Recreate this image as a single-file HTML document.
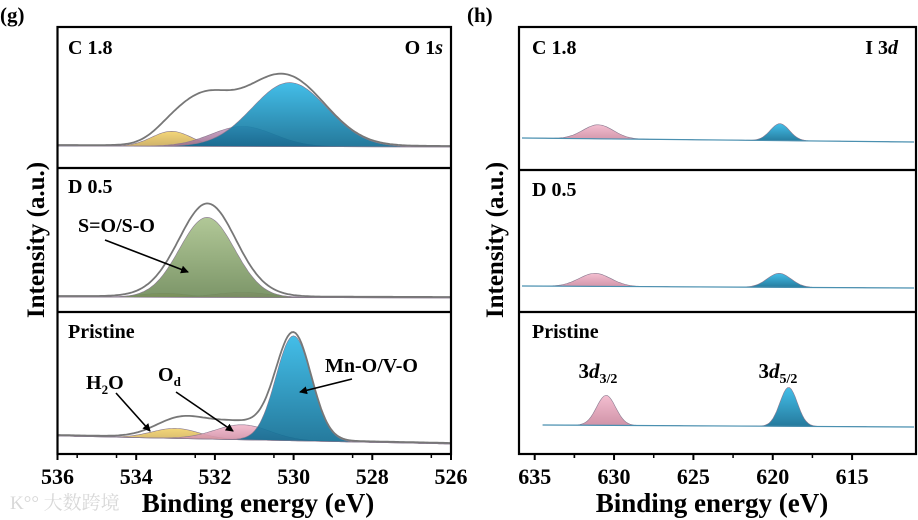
<!DOCTYPE html>
<html><head><meta charset="utf-8">
<style>
html,body{margin:0;padding:0;background:#fff;}
svg{display:block;}
text{font-family:"Liberation Serif","Noto Serif CJK SC",serif;}
</style></head>
<body>
<svg id="fig" width="918" height="520" viewBox="0 0 918 520" xmlns="http://www.w3.org/2000/svg">
<defs>
<linearGradient id="gBlue" x1="0" y1="0" x2="0" y2="1"><stop offset="0" stop-color="#2fb7e6"/><stop offset="1" stop-color="#0d6a90"/></linearGradient>
<linearGradient id="gPink" x1="0" y1="0" x2="0" y2="1"><stop offset="0" stop-color="#f2b7cb"/><stop offset="1" stop-color="#c9859c"/></linearGradient>
<linearGradient id="gYellow" x1="0" y1="0" x2="0" y2="1"><stop offset="0" stop-color="#f2d26a"/><stop offset="1" stop-color="#c9a85a"/></linearGradient>
<linearGradient id="gPurple" x1="0" y1="0" x2="0" y2="1"><stop offset="0" stop-color="#c8a0c4"/><stop offset="1" stop-color="#9a6a8c"/></linearGradient>
<linearGradient id="gGreen" x1="0" y1="0" x2="0" y2="1"><stop offset="0" stop-color="#a9c28c"/><stop offset="1" stop-color="#6e8a58"/></linearGradient>
<marker id="arr" markerWidth="8" markerHeight="8" refX="7" refY="4" orient="auto" markerUnits="userSpaceOnUse"><path d="M0,0 L8,4 L0,8 z" fill="#000"/></marker>
</defs>
</svg>
<script>
// ---------- data ----------
const oTicks = [536, 534, 532, 530, 528, 526];
const iTicks = [635, 630, 625, 620, 615];
// O 1s  C 1.8 : components [yellow(H2O), purple(Od), blue(Mn-O)]
const oC18Centers = [533.1, 531.3, 530.1];
const oC18Heights = [15, 20, 64];
const oC18Widths  = [0.5, 0.8, 0.95];
const oC18EnvExtraCenter = [532.3]; const oC18EnvExtraHeight = [36]; const oC18EnvExtraWidth = [0.6];
// O 1s  D 0.5 : [yellow, pink, green(S=O)]
const oD05Centers = [533.3, 531.3, 532.2];
const oD05Heights = [4, 5, 80];
const oD05Widths  = [0.6, 0.7, 0.7];
const oD05EnvExtraCenter = [532.2]; const oD05EnvExtraHeight = [10]; const oD05EnvExtraWidth = [0.7];
// O 1s Pristine : [yellow, pink, blue]
const oPrCenters = [533.0, 531.3, 530.0];
const oPrHeights = [10, 15, 105];
const oPrWidths  = [0.6, 0.7, 0.45];
const oPrEnvExtraCenter = [532.6]; const oPrEnvExtraHeight = [11]; const oPrEnvExtraWidth = [0.7];
// I 3d : [pink 3d3/2, blue 3d5/2]
const iC18Centers = [631.0, 619.55]; const iC18Heights = [14, 17]; const iC18Widths = [0.95, 0.6];
const iD05Centers = [631.2, 619.6];  const iD05Heights = [13, 14]; const iD05Widths = [1.0, 0.75];
const iPrCenters  = [630.5, 619.0];  const iPrHeights  = [30, 39]; const iPrWidths  = [0.6, 0.55];

// ---------- helpers ----------
const NS = "http://www.w3.org/2000/svg";
const svg = document.getElementById('fig');
function mk(tag, attrs, parent){ const e=document.createElementNS(NS,tag); for(const k in attrs) e.setAttribute(k,attrs[k]); (parent||svg).appendChild(e); return e; }
function txt(x,y,s,size,anchor,name,extra){ const t=mk('text',Object.assign({x:x,y:y,'font-size':size,'font-weight':'bold','text-anchor':anchor||'start','font-family':'Liberation Serif, serif'},extra||{})); t.innerHTML=s;   return t; }
function gauss(x,c,h,w){ return h*Math.exp(-(x-c)*(x-c)/(2*w*w)); }

// axis functions
const oX = e => 57.5 + (536 - e) * (451 - 57.5) / 10;
const iX = e => 534.7 + (635 - e) * 15.87;

function drawPanel(g, xf, eFrom, eTo, base0, base1, centers, heights, widths, fills, names, env){
  const N=200, pts=[];
  const base = e => base0 + (base1-base0)*(eFrom-e)/(eFrom-eTo);
  for(let i=0;i<=N;i++){ pts.push(eFrom + (eTo-eFrom)*i/N); }
  centers.forEach((c,k)=>{
    let d='M'+xf(pts[0]).toFixed(1)+','+base(pts[0]).toFixed(1);
    pts.forEach(e=>{ d+=' L'+xf(e).toFixed(1)+','+(base(e)-gauss(e,c,heights[k],widths[k])).toFixed(1); });
    d+=' L'+xf(pts[N]).toFixed(1)+','+base(pts[N]).toFixed(1)+' Z';
    const p=mk('path',{d:d,fill:fills[k],'fill-opacity':0.9,stroke:'#8a7a90','stroke-width':0.6},g);
    
    
  });
  if(env){
    let d='';
    pts.forEach((e,i)=>{
      let y=base(e);
      centers.forEach((c,k)=>{ y-=gauss(e,c,heights[k],widths[k]); });
      env.c.forEach((c,k)=>{ y-=gauss(e,c,env.h[k],env.w[k]); });
      d+=(i?' L':'M')+xf(e).toFixed(1)+','+(y-1).toFixed(1);
    });
    const p=mk('path',{d:d,fill:'none',stroke:'#777','stroke-width':1.8},g);
    
    
  } else {
    const p=mk('line',{x1:xf(eFrom),y1:base0,x2:xf(eTo),y2:base1,stroke:'#4a90b0','stroke-width':1.2},g);
    
    
  }
}

function frame(x0,y0,x1,y1,seps,name){
  const g=mk('g',{});
  
  
  mk('rect',{x:x0,y:y0,width:x1-x0,height:y1-y0,fill:'none',stroke:'#000','stroke-width':2.2},g);
  seps.forEach(y=>mk('line',{x1:x0,y1:y,x2:x1,y2:y,stroke:'#000','stroke-width':2.2},g));
}
function ticks(xf,majors,step,yb,x0,x1,name){
  const g=mk('g',{});
  
  
  majors.forEach(v=>{
    mk('line',{x1:xf(v),y1:yb,x2:xf(v),y2:yb+6,stroke:'#000','stroke-width':2},g);
    const t=txt(xf(v),yb+30,String(v),22,'middle','tick-label-'+v); g.appendChild(t);
    const m=xf(v-step/2); if(m>x0+2 && m<x1-2) mk('line',{x1:m,y1:yb,x2:m,y2:yb+4,stroke:'#000','stroke-width':1.5},g);
    const m2=xf(v+step/2); if(v===majors[0] && m2>x0+2) mk('line',{x1:m2,y1:yb,x2:m2,y2:yb+4,stroke:'#000','stroke-width':1.5},g);
  });
}

// ---------- left panel (g) ----------
const gL=mk('g',{});  
drawPanel(gL,oX,536,526,146,147,oC18Centers,oC18Heights,oC18Widths,['url(#gYellow)','url(#gPurple)','url(#gBlue)'],['h2o-peak-c18','od-peak-c18','mno-peak-c18'],{c:oC18EnvExtraCenter,h:oC18EnvExtraHeight,w:oC18EnvExtraWidth});
drawPanel(gL,oX,536,526,297,298,oD05Centers,oD05Heights,oD05Widths,['url(#gYellow)','url(#gPink)','url(#gGreen)'],['h2o-peak-d05','od-peak-d05','so-peak-d05'],{c:oD05EnvExtraCenter,h:oD05EnvExtraHeight,w:oD05EnvExtraWidth});
drawPanel(gL,oX,536,526,436,444,oPrCenters,oPrHeights,oPrWidths,['url(#gYellow)','url(#gPink)','url(#gBlue)'],['h2o-peak-pristine','od-peak-pristine','mno-peak-pristine'],{c:oPrEnvExtraCenter,h:oPrEnvExtraHeight,w:oPrEnvExtraWidth});
frame(57.5,27,451,454,[168,312],'o1s-frame');
ticks(oX,oTicks,-1,454,57.5,451,'o1s-x-axis');

// ---------- right panel (h) ----------
const gR=mk('g',{});  
drawPanel(gR,iX,635.8,611.1,138,142,iC18Centers,iC18Heights,iC18Widths,['url(#gPink)','url(#gBlue)'],['i3d32-peak-c18','i3d52-peak-c18'],null);
drawPanel(gR,iX,635.8,611.1,286,288,iD05Centers,iD05Heights,iD05Widths,['url(#gPink)','url(#gBlue)'],['i3d32-peak-d05','i3d52-peak-d05'],null);
drawPanel(gR,iX,634.5,611.1,425,427,iPrCenters,iPrHeights,iPrWidths,['url(#gPink)','url(#gBlue)'],['i3d32-peak-pristine','i3d52-peak-pristine'],null);
frame(519,27,916,454,[170,312],'i3d-frame');
ticks(iX,iTicks,-5,454,519,916,'i3d-x-axis');

// ---------- labels ----------
txt(0,22,'(g)',21,'start','panel-label-g');
txt(467,22,'(h)',21,'start','panel-label-h');
txt(68,54,'C 1.8',20,'start','sample-label-c18-o');
txt(443,54,'O 1<tspan font-style="italic">s</tspan>',20,'end','o1s-title');
txt(68,193,'D 0.5',20,'start','sample-label-d05-o');
txt(68,338,'Pristine',20,'start','sample-label-pristine-o');
txt(532,54,'C 1.8',20,'start','sample-label-c18-i');
txt(898,54,'I 3<tspan font-style="italic">d</tspan>',20,'end','i3d-title');
txt(532,196,'D 0.5',20,'start','sample-label-d05-i');
txt(532,338,'Pristine',20,'start','sample-label-pristine-i');
txt(598,378,'3<tspan font-style="italic">d</tspan><tspan font-size="14" dy="5">3/2</tspan>',21,'middle','label-3d32');
txt(778,378,'3<tspan font-style="italic">d</tspan><tspan font-size="14" dy="5">5/2</tspan>',21,'middle','label-3d52');
txt(78,232,'S=O/S-O',20,'start','label-so');
txt(86,389,'H<tspan font-size="13" dy="5">2</tspan><tspan dy="-5">O</tspan>',20,'start','label-h2o');
txt(158,381,'O<tspan font-size="13" dy="5">d</tspan>',20,'start','label-od');
txt(325,372,'Mn-O/V-O',20,'start','label-mno');
// arrows
[['arrow-so',105,240,188,272],['arrow-h2o',116,393,150,431],['arrow-od',176,392,233,431],['arrow-mno',352,379,300,392]].forEach(a=>{
  const l=mk('line',{x1:a[1],y1:a[2],x2:a[3],y2:a[4],stroke:'#000','stroke-width':1.6,'marker-end':'url(#arr)'});
  
  
});
txt(44,240,'Intensity (a.u.)',25,'middle','y-axis-title-o1s',{transform:'rotate(-90 44 240)'});
txt(503,240,'Intensity (a.u.)',25,'middle','y-axis-title-i3d',{transform:'rotate(-90 503 240)'});
txt(258,512,'Binding energy (eV)',27,'middle','x-axis-title-o1s');
txt(712,512,'Binding energy (eV)',27,'middle','x-axis-title-i3d');
const wm=txt(10,509,'K°° 大数跨境',19,'start','watermark');
wm.setAttribute('fill','#d8d8d8');
wm.setAttribute('font-weight','normal');
</script>
</body></html>
